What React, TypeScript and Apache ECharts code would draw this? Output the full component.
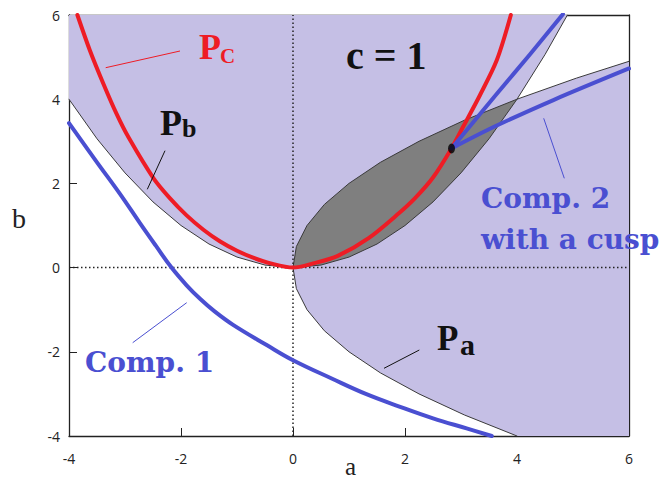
import React, { useEffect, useRef } from "react";
import * as echarts from "echarts";

// Boundary parabola of P_b (opens upward), points [a, b]
const pbCurve: number[][] = [
  [-4, 4], [-3.5, 3.06], [-3, 2.25], [-2.5, 1.56], [-2, 1], [-1.5, 0.56], [-1, 0.25],
  [-0.5, 0.06], [0, 0], [0.5, 0.06], [1, 0.25], [1.5, 0.56], [2, 1], [2.5, 1.56],
  [3, 2.25], [3.5, 3.06], [4, 4], [4.5, 5.06], [4.9, 6],
];

// Boundary parabola of P_a (opens to the right), points [a, b]
const paCurve: number[][] = [
  [4, -4], [3.06, -3.5], [2.25, -3], [1.56, -2.5], [1, -2], [0.56, -1.5], [0.25, -1],
  [0.06, -0.5], [0, 0], [0.06, 0.5], [0.25, 1], [0.56, 1.5], [1, 2], [1.56, 2.5],
  [2.25, 3], [3.06, 3.5], [4, 4], [5.06, 4.5], [6, 4.9],
];

// Curve P_c
const pcCurve: number[][] = [
  [-3.85, 6], [-3.63, 5.17], [-3.39, 4.38], [-3.15, 3.65], [-2.94, 3.1], [-2.49, 2.12],
  [-2.2, 1.65], [-1.9, 1.24], [-1.6, 0.9], [-1.3, 0.62], [-1.0, 0.4], [-0.7, 0.23],
  [-0.4, 0.1], [0, 0],
  [0.36, 0.1], [0.8, 0.28], [1.35, 0.7], [1.89, 1.29], [2.18, 1.65], [2.5, 2.14],
  [2.83, 2.83], [3.04, 3.35], [3.34, 4.1], [3.64, 4.93], [3.89, 6],
];

// Component 1
const comp1: number[][] = [
  [-4, 3.43], [-3.5, 2.5], [-3.09, 1.75], [-2.73, 1.05], [-2.45, 0.52], [-2.17, 0.0],
  [-1.9, -0.42], [-1.66, -0.74], [-1.4, -1.04], [-1.07, -1.36], [-0.47, -1.84],
  [0, -2.2], [0.7, -2.64], [1.3, -3.0], [1.9, -3.3], [2.5, -3.58], [3.1, -3.82],
  [3.55, -4.0],
];

// Component 2: two branches meeting at the cusp
const cusp: number[] = [2.83, 2.83];
const comp2Upper: number[][] = [[2.83, 2.83], [3.64, 4.13], [4.23, 5.06], [4.82, 6.02]];
const comp2Lower: number[][] = [[2.83, 2.83], [3.6, 3.35], [4.65, 3.98], [6, 4.73]];

const axisMin = -4;
const axisMax = 6;
const tickStep = 2;

const LAVENDER = "#c5bfe5";
const GREY = "#7f7f7f";
const RED = "#ee1c25";
const BLUE = "#4a4fd1";
const INK = "#222";

function polygonSeries(points: number[][], color: string, z: number) {
  return {
    type: "custom",
    silent: true,
    z,
    data: [[0, 0]],
    renderItem: (_params: any, api: any) => ({
      type: "polygon",
      shape: { points: points.map((p) => api.coord(p)) },
      style: { fill: color },
    }),
  };
}

function curveSeries(data: number[][], color: string, width: number, z: number, smooth: number | boolean = 0.3) {
  return {
    type: "line",
    data,
    showSymbol: false,
    smooth,
    silent: true,
    z,
    lineStyle: { color, width, cap: "round", join: "round" },
  };
}

function txt(text: string, x: number, y: number, font: string, fill: string) {
  return {
    type: "text",
    x,
    y,
    z: 100,
    silent: true,
    style: {
      text,
      font,
      fill,
      textAlign: "left",
      align: "left",
      textVerticalAlign: "middle",
      verticalAlign: "middle",
    },
  };
}

function seg(x1: number, y1: number, x2: number, y2: number, stroke: string) {
  return {
    type: "line",
    z: 100,
    silent: true,
    shape: { x1, y1, x2, y2 },
    style: { stroke, lineWidth: 1 },
  };
}

export default function App() {
  const ref = useRef<HTMLDivElement>(null);

  useEffect(() => {
    if (!ref.current) return;
    const chart = echarts.init(ref.current, undefined, { renderer: "svg" });

    // region above the upward parabola
    const regionB = [...pbCurve, [axisMin, axisMax]];
    // region right of the sideways parabola
    const regionA = [...paCurve, [axisMax, axisMin]];
    // overlap of both regions (lens between the two parabolas)
    const lower = pbCurve.filter((p) => p[0] >= 0 && p[0] <= 4);
    const upper = paCurve.filter((p) => p[1] >= 0 && p[1] <= 4).slice().reverse();
    const lens = [...lower, ...upper];

    const serif = '"Liberation Serif", "DejaVu Serif", serif';
    const serifWide = '"DejaVu Serif", serif';

    const baseAxis = {
      type: "value",
      min: axisMin,
      max: axisMax,
      interval: tickStep,
      splitLine: { show: false },
      axisLine: { show: true, onZero: false, lineStyle: { color: INK, width: 1.3 } },
      axisTick: { show: true, inside: true, length: 8, lineStyle: { color: INK, width: 1 } },
    };

    chart.setOption({
      animation: false,
      backgroundColor: "#fff",
      grid: { left: 69, right: 35, top: 15, bottom: 45 },
      xAxis: [
        {
          ...baseAxis,
          position: "bottom",
          axisLabel: { color: INK, fontSize: 14, fontFamily: '"Open Sans", sans-serif', margin: 15 },
        },
        { ...baseAxis, position: "top", axisLabel: { show: false } },
      ],
      yAxis: [
        {
          ...baseAxis,
          position: "left",
          axisLabel: { color: INK, fontSize: 14, fontFamily: '"Open Sans", sans-serif', margin: 9 },
        },
        { ...baseAxis, position: "right", axisLabel: { show: false } },
      ],
      series: [
        polygonSeries(regionB, LAVENDER, 1),
        polygonSeries(regionA, LAVENDER, 1),
        polygonSeries(lens, GREY, 1),
        curveSeries(pbCurve, "#3a3a3a", 1, 2, false),
        curveSeries(paCurve, "#3a3a3a", 1, 2, false),
        {
          type: "line",
          data: [[0, axisMin], [0, axisMax]],
          showSymbol: false,
          silent: true,
          z: 3,
          lineStyle: { color: INK, width: 1.5, type: [1.5, 2.5] },
        },
        {
          type: "line",
          data: [[axisMin, 0], [axisMax, 0]],
          showSymbol: false,
          silent: true,
          z: 3,
          lineStyle: { color: INK, width: 1.5, type: [1.5, 2.5] },
        },
        curveSeries(pcCurve, RED, 4, 4),
        curveSeries(comp1, BLUE, 4, 4, 0.4),
        curveSeries(comp2Upper, BLUE, 4, 4),
        curveSeries(comp2Lower, BLUE, 4, 4),
        {
          type: "scatter",
          data: [cusp],
          symbol: "circle",
          symbolSize: [7, 10],
          silent: true,
          z: 5,
          itemStyle: { color: "#000" },
        },
      ],
      graphic: [
        // axis names
        txt("a", 345, 466, `25px ${serif}`, INK),
        txt("b", 12, 218, `28px ${serif}`, INK),
        // parameter label
        txt("c = 1", 346, 55, `bold 40px ${serif}`, "#111"),
        // P_c
        seg(105.7, 67.7, 180, 51, RED),
        txt("P", 199, 47, `bold 36px ${serif}`, RED),
        txt("C", 220, 55.5, `bold 21px ${serif}`, RED),
        // P_b
        seg(165, 150.7, 147.3, 189.3, "#111"),
        txt("P", 160, 122.5, `bold 36px ${serif}`, "#111"),
        txt("b", 182, 128, `bold 26px ${serif}`, "#111"),
        // P_a
        seg(419.3, 350, 384, 368.3, "#111"),
        txt("P", 437, 338.7, `bold 35px ${serif}`, "#111"),
        txt("a", 460, 344, `bold 30px ${serif}`, "#111"),
        // component labels
        seg(186.7, 302.7, 132.7, 342.7, BLUE),
        txt("Comp. 1", 85, 362, `bold 28px ${serifWide}`, BLUE),
        seg(543.7, 118.3, 564.3, 178.3, BLUE),
        txt("Comp. 2", 481, 198.3, `bold 28px ${serifWide}`, BLUE),
        txt("with a cusp", 481, 239.3, `bold 28px ${serifWide}`, BLUE),
      ],
    });

    return () => chart.dispose();
  }, []);

  return (
    <div
      ref={ref}
      style={{ position: "fixed", left: 0, top: 0, width: 664, height: 481, background: "#fff" }}
    />
  );
}
